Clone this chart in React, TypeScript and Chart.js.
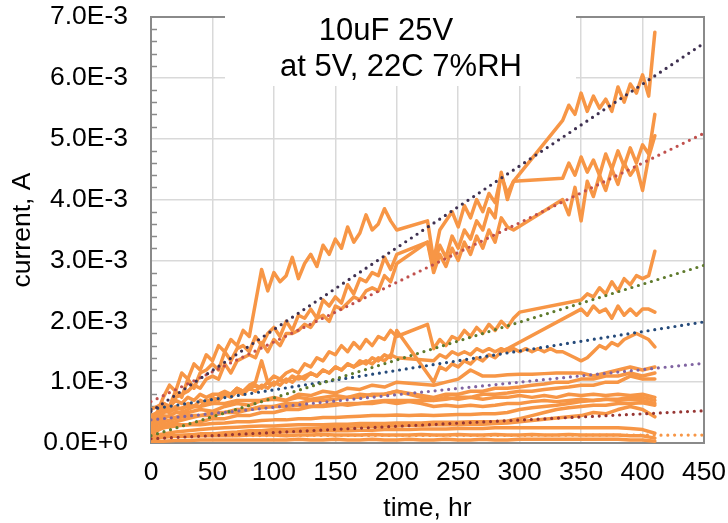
import React, { useEffect, useRef } from "react";
import { Chart, registerables } from "chart.js";

Chart.register(...registerables);

const FONT = '"Liberation Sans", Arial, sans-serif';

const TITLE_LINES = ["10uF 25V", "at 5V, 22C 7%RH"];
const X_TITLE = "time, hr";
const Y_TITLE = "current, A";
const Y_TICK_LABELS = ["0.0E+0", "1.0E-3", "2.0E-3", "3.0E-3", "4.0E-3", "5.0E-3", "6.0E-3", "7.0E-3"];

// time axis (hours)
const HOURS_FINE = [0, 5, 10, 15, 20, 25, 30, 35, 40, 45, 50, 55, 60, 65, 70, 75, 80, 85, 90, 95, 100, 105, 110, 115, 120, 125, 130, 135, 140, 145, 150, 155, 160, 165, 170, 175, 180, 185, 190, 195, 200, 205, 210, 215, 220, 225, 230, 235, 240, 245, 250, 255, 260, 265, 270, 275, 280, 285, 290, 295, 300, 305, 310, 315, 320, 325, 330, 335, 340, 345, 350, 355, 360, 365, 370, 375, 380, 385, 390, 395, 400, 405, 410];
const HOURS_COARSE = [0, 10, 20, 30, 40, 50, 60, 70, 80, 90, 100, 110, 120, 130, 140, 150, 160, 170, 180, 190, 200, 210, 220, 230, 240, 250, 260, 270, 280, 290, 300, 310, 320, 330, 340, 350, 360, 370, 380, 390, 400, 410];

// currents in mA (1.0 = 1.0E-3 A); null = no reading
const SERIES_A = [0.05, 0.5, 0.75, 0.95, 0.85, 1.15, 1.05, 1.3, 1.2, 1.45, 1.35, 1.6, 1.5, 1.7, 1.6, 1.85, 1.75, 2.3, 2.85, 2.5, 2.8, 2.65, 2.75, 3.05, 2.7, 2.95, 3.1, 2.9, 3.25, 3.1, 3.35, 3.2, 3.55, 3.3, 3.45, 3.75, 3.5, 3.6, 3.85, 3.65, 3.5, null, null, null, null, 3.65, 3.0, 3.5, null, 3.8, 3.55, 3.9, 3.7, 4.0, 3.8, 4.1, 3.95, 4.4, 4.1, 4.3, null, null, null, null, null, null, null, 5.3, 5.55, 5.4, 5.75, 5.45, 5.7, 5.5, 5.65, 5.45, 5.85, 5.6, 5.9, 5.75, 6.05, 5.7, 6.75];
const SERIES_B = [0.2, 0.45, 0.65, 0.6, 0.85, 0.75, 1.05, 0.9, 1.15, 1.2, 1.3, 1.2, 1.5, 1.35, 1.55, 1.6, 1.5, 1.75, 1.6, 1.8, 1.9, 1.75, 2.0, 1.85, 2.1, 2.05, 2.2, 2.05, 2.35, 2.25, 2.4, 2.3, 2.6, 2.45, 2.7, 2.65, 2.8, 2.75, 3.05, 2.85, 3.1, null, null, null, null, 3.3, 2.9, 3.25, 3.05, 3.4, 3.2, 3.5, 3.35, 3.65, 3.5, 3.85, 3.7, 4.45, 4.0, 4.3, null, null, null, null, null, null, null, 4.35, 4.6, 4.4, 4.7, 4.45, 4.65, 4.4, 4.75, 4.5, 4.8, 4.55, 4.85, 4.6, 4.9, 4.75, 5.4];
const SERIES_C = [0.3, 0.5, 0.6, 0.55, 0.75, 0.8, 0.85, 0.95, 0.9, 1.05, 1.1, 1.05, 1.3, 1.15, 1.35, 1.4, 1.45, 1.4, 1.65, 1.5, 1.7, 1.6, 1.8, 1.8, 1.85, 1.95, 1.9, 2.05, 2.1, 2.0, 2.25, 2.2, 2.3, 2.4, 2.35, 2.5, 2.55, 2.5, 2.75, 2.65, 2.95, null, null, null, null, 3.3, 2.8, 3.1, 2.9, 3.2, 3.0, 3.3, 3.1, 3.4, 3.2, 3.5, 3.3, 3.7, 3.55, 3.5, null, null, null, null, null, null, null, 4.0, 3.75, 4.2, 3.65, 4.3, 4.05, 4.4, 4.15, 4.5, 4.25, 4.6, 4.4, 4.55, 4.15, 4.7, 5.05];
const SERIES_D = [0.1, 0.35, 0.4, 0.45, 0.5, 0.5, 0.55, 0.6, 0.6, 0.7, 0.65, 0.75, 0.8, 0.8, 0.9, 0.85, 0.95, 1.0, 1.35, 1.0, 1.1, 1.05, 1.15, 1.2, 1.15, 1.3, 1.25, 1.4, 1.35, 1.5, 1.45, 1.6, 1.5, 1.65, 1.55, 1.7, 1.6, 1.75, 1.7, 1.85, 1.75, null, null, null, null, 1.95, 1.55, 1.7, 1.6, 1.75, 1.7, 1.85, 1.75, 1.9, 1.8, 1.95, 1.85, 2.0, 1.9, 2.05, 2.15, null, null, null, null, null, null, null, null, null, 2.35, 2.45, 2.4, 2.55, 2.45, 2.65, 2.5, 2.7, 2.6, 2.75, 2.7, 2.75, 3.15];
const SERIES_E = [0.45, 0.5, 0.55, 0.5, 0.6, 0.55, 0.65, 0.6, 0.7, 0.65, 0.75, 0.7, 0.8, 0.75, 0.85, 0.8, 0.9, 0.85, 0.95, 0.9, 1.0, 0.95, 1.05, 1.0, 1.1, 1.05, 1.15, 1.1, 1.2, 1.15, 1.25, 1.2, 1.3, 1.25, 1.35, 1.3, 1.4, 1.35, 1.45, 1.4, 1.85, null, null, null, null, null, 1.0, 1.25, 1.2, 1.3, 1.25, 1.35, 1.3, 1.4, 1.35, 1.45, 1.4, 1.5, 1.55, null, null, null, null, null, null, null, null, null, null, null, 2.2, 2.1, 2.25, 2.15, 2.2, 2.05, 2.25, 2.1, 2.2, 2.1, 2.2, 2.2, 2.15];
const SERIES_F = [0.55, 0.6, 0.65, 0.6, 0.7, 0.65, 0.75, 0.7, 0.8, 0.75, 0.8, 0.8, 0.85, 0.8, 0.9, 0.85, 0.9, 0.95, 0.9, 1.0, 0.95, 1.05, 1.0, 1.1, 1.05, 1.1, 1.15, 1.1, 1.2, 1.15, 1.25, 1.2, 1.3, 1.25, 1.3, 1.35, 1.3, 1.4, 1.35, 1.45, 1.4, null, null, null, null, null, 1.35, 1.45, 1.4, 1.5, 1.45, 1.5, 1.45, 1.55, 1.5, 1.55, 1.5, 1.55, 1.5, 1.55, 1.5, 1.55, 1.5, 1.55, 1.5, 1.55, 1.5, 1.5, 1.45, 1.4, 1.35, 1.4, 1.5, 1.6, 1.55, 1.65, 1.6, 1.7, 1.75, 1.8, 1.75, 1.7, 1.58];
const SERIES_G1 = [0.35, 0.45, 0.42, 0.5, 0.55, 0.52, 0.6, 0.65, 0.62, 0.7, 0.75, 0.7, 0.8, 0.78, 0.85, 0.82, 0.9, 0.88, 0.95, 0.92, 1.0, null, null, 0.95, 1.0, 1.05, 1.2, 1.1, 1.1, 1.12, 1.13, 1.13, 1.14, 1.15, 1.15, 1.15, 1.1, 1.15, 1.2, 1.25, 1.2, 1.25];
const SERIES_G2 = [0.2, 0.3, 0.35, 0.4, 0.45, 0.45, 0.5, 0.5, 0.55, 0.6, 0.6, 0.65, 0.65, 0.7, 0.7, 0.72, 0.75, 0.75, 0.8, 0.8, 0.85, null, null, 0.75, 0.8, 0.8, 0.85, 0.85, 0.9, 0.9, 0.92, 0.95, 0.97, 1.0, 1.0, 1.05, 1.05, 1.1, 1.1, 1.15, 1.1, 1.15];
const SERIES_G3 = [0.15, 0.25, 0.3, 0.3, 0.35, 0.4, 0.4, 0.45, 0.45, 0.5, 0.5, 0.55, 0.55, 0.6, 0.6, 0.62, 0.65, 0.65, 0.68, 0.7, 0.7, null, null, 0.7, 0.72, 0.75, 0.75, 0.8, 0.8, 0.82, 0.85, 0.85, 0.88, 0.9, 0.92, 0.95, 0.95, 1.0, 1.0, 1.1, 1.05, 1.05];
const SERIES_H = [0.4, 0.5, 0.55, 0.6, 0.6, 0.65, 0.65, 0.7, 0.7, 0.7, 0.72, 0.7, 0.75, 0.72, 0.75, 0.78, 0.75, 0.8, 0.78, 0.8, 0.85, null, null, 0.7, 0.75, 0.72, 0.75, 0.72, 0.75, 0.75, 0.78, 0.75, 0.78, 0.75, 0.8, 0.78, 0.8, 0.78, 0.8, 0.78, 0.8, 0.75];
const SERIES_I = [0.25, 0.35, 0.4, 0.45, 0.45, 0.5, 0.5, 0.55, 0.55, 0.58, 0.6, 0.6, 0.62, 0.6, 0.62, 0.65, 0.62, 0.65, 0.65, 0.68, 0.65, 0.68, 0.65, 0.6, 0.62, 0.6, 0.62, 0.6, 0.62, 0.65, 0.65, 0.68, 0.7, 0.68, 0.7, 0.72, 0.7, 0.72, 0.7, 0.72, 0.7, 0.65];
const SERIES_N = [0.2, 0.25, 0.28, 0.3, 0.3, 0.32, 0.33, 0.35, 0.35, 0.37, 0.38, 0.38, 0.4, 0.4, 0.42, 0.42, 0.43, 0.44, 0.45, 0.45, 0.46, 0.45, 0.46, 0.45, 0.46, 0.47, 0.47, 0.48, 0.48, 0.5, 0.55, 0.58, 0.6, 0.62, 0.65, 0.68, 0.7, 0.72, 0.72, 0.75, 0.75, 0.7];
const SERIES_O = [0.12, 0.15, 0.18, 0.2, 0.22, 0.24, 0.25, 0.26, 0.27, 0.28, 0.28, 0.29, 0.3, 0.3, 0.3, 0.31, 0.31, 0.32, 0.32, 0.32, 0.33, 0.33, 0.33, 0.34, 0.34, 0.34, 0.35, 0.35, 0.35, 0.36, 0.4, 0.45, 0.5, 0.55, 0.58, 0.6, 0.62, 0.62, 0.65, 0.65, 0.66, 0.62];
const SERIES_J = [0.1, 0.12, 0.12, 0.13, 0.15, 0.15, 0.17, 0.18, 0.2, 0.2, 0.22, 0.22, 0.23, 0.24, 0.25, 0.25, 0.26, 0.27, 0.27, 0.28, 0.28, 0.29, 0.29, 0.3, 0.3, 0.3, 0.31, 0.31, 0.32, 0.33, null, null, null, null, null, 0.45, 0.5, 0.48, 0.55, 0.6, 0.55, 0.43];
const SERIES_K = [0.05, 0.1, 0.12, 0.13, 0.14, 0.15, 0.15, 0.16, 0.17, 0.17, 0.18, 0.18, 0.19, 0.19, 0.2, 0.2, 0.2, 0.21, 0.21, 0.22, 0.22, 0.22, 0.23, 0.23, 0.23, 0.24, 0.24, 0.24, 0.25, 0.25, 0.25, 0.25, 0.25, 0.25, 0.25, 0.25, 0.25, 0.25, 0.25, 0.24, 0.22, 0.16];
const SERIES_L = [0.08, 0.1, 0.11, 0.11, 0.12, 0.12, 0.12, 0.12, 0.13, 0.13, 0.13, 0.12, 0.13, 0.13, 0.14, 0.13, 0.13, 0.13, 0.14, 0.13, 0.13, 0.13, 0.14, 0.13, 0.13, 0.14, 0.13, 0.13, 0.14, 0.13, 0.13, 0.14, 0.13, 0.13, 0.14, 0.13, 0.13, 0.13, 0.13, 0.12, 0.12, 0.08];
const SERIES_M = [0.02, 0.03, 0.04, 0.04, 0.05, 0.05, 0.05, 0.05, 0.05, 0.05, 0.05, 0.05, 0.06, 0.05, 0.05, 0.06, 0.05, 0.05, 0.06, 0.05, 0.05, 0.06, 0.05, 0.05, 0.06, 0.05, 0.05, 0.06, 0.05, 0.05, 0.06, 0.06, 0.06, 0.06, 0.06, 0.06, 0.06, 0.06, 0.06, 0.05, 0.05, 0.03];

// dotted linear trend lines (start at 0 h, forecast to 450 h)
const TREND_HOURS = [0, 450];
const TREND_DARK_PURPLE = [0.52, 6.57];
const TREND_RED = [0.68, 5.09];
const TREND_GREEN = [0.12, 2.92];
const TREND_BLUE = [0.555, 1.99];
const TREND_LAVENDER = [0.38, 1.31];
const TREND_DARK_RED = [0.07, 0.53];
const TREND_ORANGE = [0.12, 0.13];

const ORANGE = "#F79646";

function toPoints(hours: number[], values: (number | null)[]) {
  return hours
    .map((h, i) => ({ x: h, y: values[i] }))
    .filter((p) => p.y !== null && p.y !== undefined);
}

const framePlugin = {
  id: "framePlugin",
  beforeDatasetsDraw(chart: any) {
    const { ctx, chartArea: a, scales } = chart;
    const ys = scales.y;
    ctx.save();
    // minor ticks on the value axis (inside)
    ctx.strokeStyle = "#8a8a8a";
    ctx.lineWidth = 1.5;
    for (let k = 1; k < 35; k++) {
      if (k % 5 === 0) continue;
      const py = Math.round(ys.getPixelForValue(k * 0.2)) + 0.5;
      ctx.beginPath();
      ctx.moveTo(a.left, py);
      ctx.lineTo(a.left + 6, py);
      ctx.stroke();
    }
    // plot border
    ctx.lineWidth = 2;
    ctx.strokeStyle = "#8a8a8a";
    ctx.strokeRect(a.left, a.top, a.right - a.left, a.bottom - a.top);
    // title box
    ctx.fillStyle = "#ffffff";
    ctx.fillRect(a.left + 74, a.top - 2, 351, 71);
    ctx.fillStyle = "#000000";
    ctx.font = `31px ${FONT}`;
    ctx.textAlign = "center";
    ctx.textBaseline = "alphabetic";
    ctx.fillText(TITLE_LINES[0], a.left + 235, a.top + 23);
    ctx.fillText(TITLE_LINES[1], a.left + 250, a.top + 59);
    ctx.restore();
  },
};

export default function App() {
  const ref = useRef<HTMLCanvasElement>(null);

  useEffect(() => {
    document.body.style.margin = "0";
    const orangeSeries = [
      [HOURS_FINE, SERIES_A],
      [HOURS_FINE, SERIES_B],
      [HOURS_FINE, SERIES_C],
      [HOURS_FINE, SERIES_D],
      [HOURS_FINE, SERIES_E],
      [HOURS_FINE, SERIES_F],
      [HOURS_COARSE, SERIES_G1],
      [HOURS_COARSE, SERIES_G2],
      [HOURS_COARSE, SERIES_G3],
      [HOURS_COARSE, SERIES_H],
      [HOURS_COARSE, SERIES_I],
      [HOURS_COARSE, SERIES_N],
      [HOURS_COARSE, SERIES_O],
      [HOURS_COARSE, SERIES_J],
      [HOURS_COARSE, SERIES_K],
      [HOURS_COARSE, SERIES_L],
      [HOURS_COARSE, SERIES_M],
    ] as [number[], (number | null)[]][];

    const trends: [number[], string][] = [
      [TREND_DARK_PURPLE, "#3F3151"],
      [TREND_RED, "#C0504D"],
      [TREND_GREEN, "#5E7A2C"],
      [TREND_BLUE, "#254A7A"],
      [TREND_LAVENDER, "#8064A2"],
      [TREND_DARK_RED, "#963634"],
      [TREND_ORANGE, ORANGE],
    ];

    const datasets: any[] = [
      ...orangeSeries.map(([h, v]) => ({
        data: toPoints(h, v),
        borderColor: ORANGE,
        borderWidth: 3.5,
        pointRadius: 0,
        tension: 0,
        spanGaps: true,
        fill: false,
        borderJoinStyle: "round",
        borderCapStyle: "round",
        order: 2,
      })),
      ...trends.map(([v, c]) => ({
        data: toPoints(TREND_HOURS, v),
        borderColor: c,
        borderWidth: 3.2,
        borderDash: [0, 6.8],
        borderCapStyle: "round",
        pointRadius: 0,
        tension: 0,
        fill: false,
        order: 1,
      })),
    ];

    const chart = new Chart(ref.current as HTMLCanvasElement, {
      type: "line",
      data: { datasets },
      plugins: [framePlugin],
      options: {
        responsive: false,
        animation: false,
        devicePixelRatio: 1,
        events: [],
        layout: { padding: { left: 0, top: 17, right: 24, bottom: 0 } },
        plugins: {
          legend: { display: false },
          tooltip: { enabled: false },
          title: { display: false },
        },
        scales: {
          x: {
            type: "linear",
            min: 0,
            max: 450,
            afterFit: (s: any) => {
              s.height = 80;
            },
            ticks: {
              stepSize: 50,
              padding: 0,
              color: "#000",
              font: { family: FONT, size: 26.5 },
            },
            grid: { color: "#d9d9d9", lineWidth: 1.5, drawTicks: true, tickLength: 14, tickColor: "rgba(0,0,0,0)" },
            border: { display: false },
            title: {
              display: true,
              text: X_TITLE,
              color: "#000",
              font: { family: FONT, size: 26.5, lineHeight: 1 },
              padding: { top: 0, bottom: 1 },
            },
          },
          y: {
            type: "linear",
            min: 0,
            max: 7,
            afterFit: (s: any) => {
              s.width = 151;
            },
            ticks: {
              stepSize: 1,
              padding: 0,
              color: "#000",
              font: { family: FONT, size: 26.5 },
              callback: (_v: any, i: number) => Y_TICK_LABELS[i],
            },
            grid: { color: "#d9d9d9", lineWidth: 1.5, drawTicks: true, tickLength: 23, tickColor: "rgba(0,0,0,0)" },
            border: { display: false },
            title: {
              display: true,
              text: Y_TITLE,
              color: "#000",
              font: { family: FONT, size: 26.5, lineHeight: 1 },
              padding: { top: 9, bottom: 0 },
            },
          },
        },
      },
    });
    return () => chart.destroy();
  }, []);

  return (
    <div style={{ width: 728, height: 523 }}>
      <canvas ref={ref} width={728} height={523} style={{ display: "block" }} />
    </div>
  );
}
